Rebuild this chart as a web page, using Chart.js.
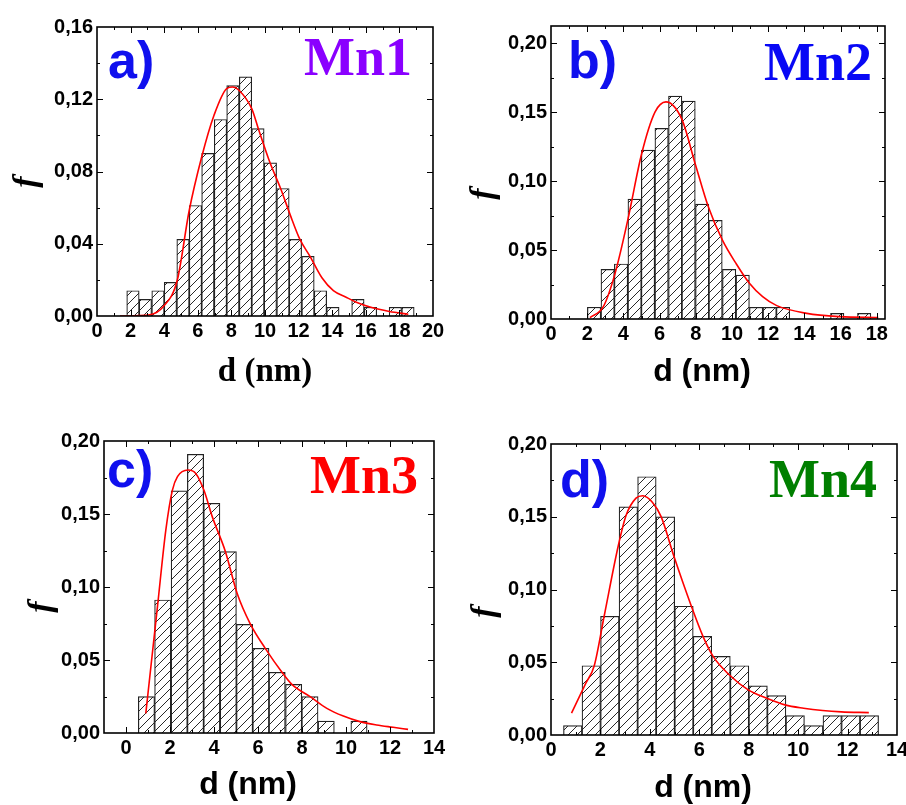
<!DOCTYPE html>
<html>
<head>
<meta charset="utf-8">
<script src="https://cdn.jsdelivr.net/npm/chart.js@4.4.0/dist/chart.umd.min.js"></script>
<style>
body { margin: 0; background: #fff; }
#wrap { position: relative; width: 906px; height: 805px; overflow: hidden; }
canvas { position: absolute; }
</style>
</head>
<body>
<div id="wrap">
  <canvas id="pa" width="453" height="400" style="left:0;top:0"></canvas>
  <canvas id="pb" width="453" height="400" style="left:453px;top:0"></canvas>
  <canvas id="pc" width="453" height="405" style="left:0;top:400px"></canvas>
  <canvas id="pd" width="453" height="405" style="left:453px;top:400px"></canvas>
</div>
<script>
// Histogram bin centres (nm) and frequencies
const binsA = [2.14, 2.88, 3.63, 4.37, 5.12, 5.86, 6.60, 7.35, 8.09, 8.84, 9.58, 10.32, 11.07, 11.81, 12.56, 13.30, 14.04, 14.79, 15.53, 16.28, 17.02, 17.76, 18.51];
const freqA = [0.014, 0.0092, 0.014, 0.0186, 0.0424, 0.0612, 0.090, 0.1088, 0.1276, 0.1324, 0.1038, 0.0848, 0.0706, 0.0424, 0.033, 0.014, 0.0048, 0, 0.0092, 0.0048, 0, 0.0048, 0.0048];

const binsB = [2.38, 3.13, 3.87, 4.62, 5.36, 6.11, 6.86, 7.60, 8.35, 9.09, 9.84, 10.59, 11.33, 12.08, 12.82, 13.57, 14.32, 15.06, 15.81, 16.55, 17.30];
const freqB = [0.0085, 0.036, 0.0399, 0.087, 0.1225, 0.1382, 0.1616, 0.158, 0.0833, 0.0715, 0.036, 0.0319, 0.0085, 0.0085, 0.0085, 0, 0, 0, 0.0041, 0, 0.0041];

const binsC = [0.93, 1.67, 2.42, 3.16, 3.90, 4.65, 5.39, 6.13, 6.87, 7.62, 8.36, 9.10, 9.85, 10.59];
const freqC = [0.0249, 0.0911, 0.1658, 0.1909, 0.1573, 0.1242, 0.0744, 0.058, 0.0416, 0.0333, 0.0249, 0.0082, 0, 0.0082];

const binsD = [0.88, 1.63, 2.38, 3.13, 3.88, 4.63, 5.38, 6.13, 6.88, 7.63, 8.38, 9.13, 9.88, 10.63, 11.38, 12.13, 12.88];
const freqD = [0.0064, 0.0476, 0.0816, 0.1568, 0.1775, 0.1499, 0.0885, 0.0678, 0.054, 0.0476, 0.0338, 0.0271, 0.0133, 0.0064, 0.0133, 0.0133, 0.0133];

// Fitted (red) curves
const fitXA = [1.37, 3.15, 3.95, 4.78, 5.48, 6.23, 6.96, 7.72, 8.08, 8.45, 9.21, 9.60, 10.30, 10.93, 11.50, 12.08, 12.68, 13.40, 14.07, 14.80, 15.40, 16.30, 17.40, 18.53];
const fitYA = [0, 0.0007, 0.0052, 0.0199, 0.058, 0.088, 0.111, 0.1259, 0.1268, 0.125, 0.1148, 0.1038, 0.0848, 0.0706, 0.056, 0.0424, 0.033, 0.021, 0.014, 0.0105, 0.0078, 0.0048, 0.0025, 0.001];

const fitXB = [2.15, 2.89, 3.54, 4.24, 5.01, 5.75, 6.35, 7.22, 7.96, 8.69, 9.47, 10.22, 10.96, 11.69, 12.47, 14.13, 15.97, 18.08];
const fitYB = [0.001, 0.0089, 0.0331, 0.0717, 0.12, 0.1502, 0.1575, 0.1451, 0.1128, 0.0814, 0.0572, 0.0403, 0.0259, 0.0162, 0.0097, 0.0041, 0.0017, 0.001];

const fitXC = [0.90, 1.43, 1.81, 2.11, 2.34, 2.82, 3.17, 3.54, 3.92, 4.52, 5.05, 5.66, 6.33, 7.09, 7.54, 8.37, 9.13, 9.88, 10.63, 11.39, 12.14, 12.82];
const fitYC = [0.0135, 0.0865, 0.139, 0.1664, 0.1756, 0.1801, 0.1778, 0.1664, 0.1482, 0.1242, 0.0957, 0.0744, 0.058, 0.0416, 0.0333, 0.0249, 0.0169, 0.0116, 0.0078, 0.0055, 0.0039, 0.0025];

const fitXD = [0.83, 1.41, 1.75, 2.15, 2.72, 3.04, 3.44, 3.71, 4.10, 4.46, 4.97, 5.68, 6.15, 6.56, 7.21, 7.98, 8.73, 9.47, 10.22, 10.99, 11.75, 12.86];
const fitYD = [0.015, 0.0356, 0.0476, 0.0816, 0.1299, 0.151, 0.1628, 0.1644, 0.16, 0.1499, 0.123, 0.0885, 0.0678, 0.054, 0.0414, 0.031, 0.0253, 0.0207, 0.0184, 0.0168, 0.0159, 0.0154];

// diagonal hatch used for the bars
function hatch() {
    const s = 9;
    const c = document.createElement('canvas');
    c.width = s; c.height = s;
    const g = c.getContext('2d');
    g.fillStyle = '#fff';
    g.fillRect(0, 0, s, s);
    g.strokeStyle = '#111';
    g.lineWidth = 0.9;
    g.beginPath();
    g.moveTo(0, s); g.lineTo(s, 0);
    g.moveTo(-1, 1); g.lineTo(1, -1);
    g.moveTo(s - 1, s + 1); g.lineTo(s + 1, s - 1);
    g.stroke();
    return g.createPattern(c, 'repeat');
}

function tickMarks(scale) {
    const major = scale.ticks.map(t => t.value);
    const step = major[1] - major[0];
    const out = major.filter(v => v > scale.min && v < scale.max).map(v => [v, 6]);
    for (let v = major[0] - step / 2; v < scale.max; v += step) {
        if (v > scale.min) out.push([v, 3]);
    }
    return out;
}

// frame, inward ticks and all free text (panel tags, names, axis titles)
const framePlugin = {
    id: 'frame',
    afterDatasetsDraw(chart, args, o) {
        const { ctx, chartArea: a, scales: { x, y } } = chart;
        ctx.save();
        ctx.strokeStyle = '#000';
        ctx.lineWidth = 1;
        tickMarks(x).forEach(([v, len]) => {
            const px = Math.round(x.getPixelForValue(v)) + 0.5;
            ctx.beginPath();
            ctx.moveTo(px, a.bottom); ctx.lineTo(px, a.bottom - len);
            ctx.moveTo(px, a.top); ctx.lineTo(px, a.top + len);
            ctx.stroke();
        });
        tickMarks(y).forEach(([v, len]) => {
            const py = Math.round(y.getPixelForValue(v)) + 0.5;
            ctx.beginPath();
            ctx.moveTo(a.left, py); ctx.lineTo(a.left + len, py);
            ctx.moveTo(a.right, py); ctx.lineTo(a.right - len, py);
            ctx.stroke();
        });
        ctx.lineWidth = 1.6;
        ctx.strokeRect(a.left, a.top, a.right - a.left, a.bottom - a.top);

        const ox = o.origin[0], oy = o.origin[1];
        ctx.textBaseline = 'alphabetic';
        ctx.fillStyle = '#1010ee';
        ctx.font = 'bold 52px "Liberation Sans", Arial, sans-serif';
        ctx.textAlign = 'left';
        ctx.fillText(o.tag.t, o.tag.x - ox, o.tag.y - oy);

        ctx.fillStyle = o.name.c;
        ctx.font = 'bold 54px "Liberation Serif", "Times New Roman", serif';
        ctx.textAlign = 'right';
        ctx.fillText(o.name.t, o.name.x - ox, o.name.y - oy);

        ctx.fillStyle = '#000';
        ctx.textAlign = 'center';
        ctx.textBaseline = 'middle';
        ctx.font = o.xt.serif ? 'bold 33px "Liberation Serif", serif' : 'bold 32px "Liberation Sans", Arial, sans-serif';
        ctx.fillText('d (nm)', o.xt.x - ox, o.xt.y - oy);

        ctx.translate(o.yt.x - ox, o.yt.y - oy);
        ctx.rotate(-Math.PI / 2);
        ctx.font = 'italic bold 34px "Liberation Serif", serif';
        ctx.fillText('f', 0, 0);
        ctx.restore();
    }
};

const panels = [
    { id: 'pa', box: [0, 0, 453, 400], area: { l: 97, r: 433, t: 27, b: 316 },
      bins: binsA, freq: freqA, fitX: fitXA, fitY: fitYA,
      x: [0, 20, 2], y: [0, 0.16, 0.04],
      tag: { t: 'a)', x: 108, y: 78 }, name: { t: 'Mn1', x: 412, y: 75, c: '#8a00ff' },
      xt: { x: 265, y: 372, serif: true }, yt: { x: 27, y: 182 } },
    { id: 'pb', box: [453, 0, 453, 400], area: { l: 551, r: 885, t: 26, b: 319 },
      bins: binsB, freq: freqB, fitX: fitXB, fitY: fitYB,
      x: [0, 18.45, 2], y: [0, 0.2125, 0.05],
      tag: { t: 'b)', x: 568, y: 78 }, name: { t: 'Mn2', x: 872, y: 80, c: '#0808f5' },
      xt: { x: 702, y: 372 }, yt: { x: 484, y: 194 } },
    { id: 'pc', box: [0, 400, 453, 405], area: { l: 104, r: 434, t: 441, b: 733 },
      bins: binsC, freq: freqC, fitX: fitXC, fitY: fitYC,
      x: [-1, 14, 2], y: [0, 0.20, 0.05],
      tag: { t: 'c)', x: 107, y: 487 }, name: { t: 'Mn3', x: 418, y: 493, c: '#ff0000' },
      xt: { x: 248, y: 785 }, yt: { x: 42, y: 607 } },
    { id: 'pd', box: [453, 400, 453, 405], area: { l: 551, r: 897, t: 444, b: 735 },
      bins: binsD, freq: freqD, fitX: fitXD, fitY: fitYD,
      x: [0, 14, 2], y: [0, 0.20, 0.05],
      tag: { t: 'd)', x: 560, y: 497 }, name: { t: 'Mn4', x: 877, y: 497, c: '#007f00' },
      xt: { x: 703, y: 788 }, yt: { x: 485, y: 612 } }
];

const tickFont = { family: '"Liberation Sans", Arial, sans-serif', size: 20, weight: 'bold' };
const X_H = 30;

function renderPanel(p, pattern) {
    const [bx, by, bw, bh] = p.box;
    const yWidth = p.area.l - bx;
    new Chart(document.getElementById(p.id), {
        type: 'bar',
        data: {
            datasets: [
                {
                    type: 'line',
                    data: p.fitX.map((v, i) => ({ x: v, y: p.fitY[i] })),
                    borderColor: '#ff0000',
                    borderWidth: 1.6,
                    pointRadius: 0,
                    fill: false,
                    cubicInterpolationMode: 'monotone',
                    order: 0
                },
                {
                    data: p.bins.map((v, i) => ({ x: v, y: p.freq[i] })),
                    backgroundColor: pattern,
                    borderColor: '#222',
                    borderWidth: 1.2,
                    barPercentage: 1,
                    categoryPercentage: 1,
                    order: 1
                }
            ]
        },
        options: {
            responsive: false,
            animation: false,
            layout: {
                autoPadding: false,
                padding: { left: 0, top: p.area.t - by, right: bx + bw - p.area.r, bottom: by + bh - p.area.b - X_H }
            },
            plugins: {
                legend: { display: false },
                tooltip: { enabled: false },
                frame: { origin: [bx, by], tag: p.tag, name: p.name, xt: p.xt, yt: p.yt }
            },
            scales: {
                x: {
                    type: 'linear', offset: false,
                    min: p.x[0], max: p.x[1],
                    ticks: { stepSize: p.x[2], includeBounds: false, color: '#000', font: tickFont, padding: 3, maxRotation: 0, autoSkip: false },
                    grid: { display: false, drawTicks: false },
                    border: { display: false },
                    afterFit: s => { s.height = X_H; s.paddingLeft = 0; s.paddingRight = 0; }
                },
                y: {
                    min: p.y[0], max: p.y[1],
                    ticks: {
                        stepSize: p.y[2], includeBounds: false, color: '#000', font: tickFont, padding: 4,
                        callback: v => v.toFixed(2).replace('.', ',')
                    },
                    grid: { display: false, drawTicks: false },
                    border: { display: false },
                    afterFit: s => { s.width = yWidth; s.paddingTop = 0; s.paddingBottom = 0; }
                }
            }
        },
        plugins: [framePlugin]
    });
}

const pattern = hatch();
panels.forEach(p => renderPanel(p, pattern));
</script>
</body>
</html>
